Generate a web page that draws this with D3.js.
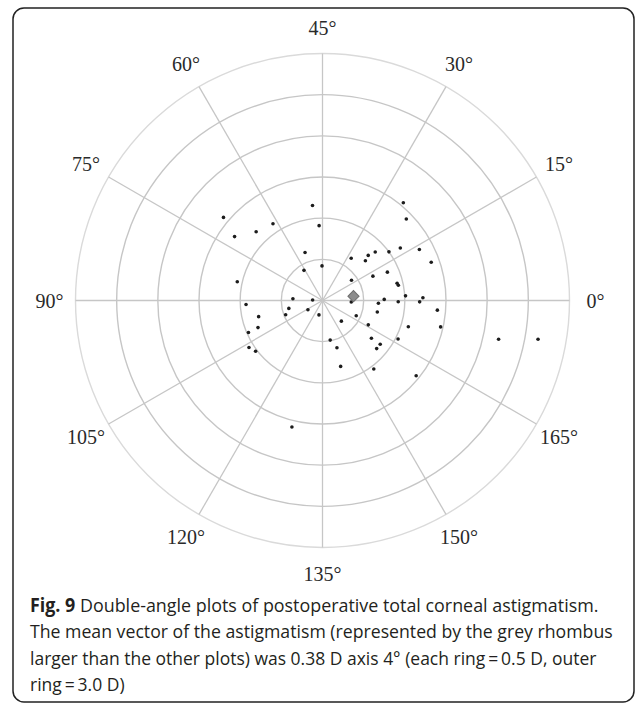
<!DOCTYPE html>
<html>
<head>
<meta charset="utf-8">
<script src="https://cdn.jsdelivr.net/npm/d3@7"></script>
<style>
  html, body { margin: 0; padding: 0; background: #fff; }
  svg { display: block; }
</style>
</head>
<body>
<svg id="chart" width="637" height="704"></svg>
<script>
// ---- Data (magnitude in dioptres, axis in degrees) ----
const magnitudes = [1.57,1.32,1.16,1.11,1.16,0.91,0.62,0.43,0.42,1.06,
  0.93,0.80,0.85,0.98,1.06,1.02,0.36,0.42,0.48,0.21,
  0.12,0.18,0.34,0.45,0.49,0.60,0.83,0.63,0.75,0.88,
  0.88,1.04,1.03,1.09,1.46,1.40,1.47,0.35,0.43,0.62,
  0.71,0.78,0.87,1.00,1.14,1.33,1.40,0.68,0.86,0.93,
  0.94,1.01,0.75,0.68,0.68,0.92,1.18,1.22,1.54,1.42,
  2.19,2.66,1.58];
const axesDeg = [70,72,67,61.4,48,46.3,55,60.8,45.4,83.8,
  91.5,97.1,101.4,101.7,106.3,108.6,88.3,96.6,100.6,106.3,
  88.5,128.1,156.2,167.8,140.5,143.5,142.7,166,161.2,159.2,
  161.4,153.4,166.5,171.5,160.6,177.6,173.7,178.5,17.5,27.9,
  21.4,22.3,21.3,18.1,17,13.9,9.7,12.9,11.8,6.5,
  5.7,1.6,0.5,178.6,174.1,179.5,179.6,0.8,25.2,22.1,
  173.8,174.9,128.2];
const meanMagnitude = 0.38;
const meanAxis = 4;
const ringValues = [0.5, 1.0, 1.5, 2.0, 2.5, 3.0];
const axisTicks = [0,15,30,45,60,75,90,105,120,135,150,165];
const captionBold = "Fig. 9";
const captionLines = [
  " Double-angle plots of postoperative total corneal astigmatism.",
  "The mean vector of the astigmatism (represented by the grey rhombus",
  "larger than the other plots) was 0.38 D axis 4° (each ring\u2009=\u20090.5 D, outer",
  "ring\u2009=\u20093.0 D)"
];

// ---- Layout ----
const svg = d3.select("#chart");
const cx = 322.5, cy = 300.5, R = 247;
const rScale = d3.scaleLinear().domain([0, 3]).range([0, R]);
// double-angle: display angle = 2 * axis
const aScale = d3.scaleLinear().domain([0, 180]).range([0, 2 * Math.PI]);
const px = (m, a) => cx + rScale(m) * Math.cos(aScale(a));
const py = (m, a) => cy - rScale(m) * Math.sin(aScale(a));

// frame
svg.append("rect")
  .attr("x", 13).attr("y", 8).attr("width", 621).attr("height", 694)
  .attr("rx", 11).attr("ry", 11)
  .attr("fill", "none").attr("stroke", "#222").attr("stroke-width", 1.5);

const g = svg.append("g");

// rings
g.selectAll("circle.ring").data(ringValues).join("circle")
  .attr("class", "ring")
  .attr("cx", cx).attr("cy", cy)
  .attr("r", d => rScale(d))
  .attr("fill", "none")
  .attr("stroke", d => d === 3 ? "#dadada" : "#c6c6c6")
  .attr("stroke-width", 1.4);

// spokes
g.selectAll("line.spoke").data(axisTicks).join("line")
  .attr("class", "spoke")
  .attr("x1", cx).attr("y1", cy)
  .attr("x2", d => px(3, d)).attr("y2", d => py(3, d))
  .attr("stroke", "#c6c6c6").attr("stroke-width", 1.3);

// angle labels
const labelR = 3 * 273 / 247;
g.selectAll("text.alab").data(axisTicks).join("text")
  .attr("class", "alab")
  .attr("x", d => px(labelR, d))
  .attr("y", d => py(labelR, d))
  .attr("text-anchor", "middle")
  .attr("dominant-baseline", "central")
  .attr("font-family", "'Liberation Serif', 'DejaVu Serif', serif")
  .attr("font-size", 20)
  .attr("fill", "#2a2a2a")
  .text(d => d + "°");

// data points
const pts = magnitudes.map((m, i) => ({ m, a: axesDeg[i] }));
g.selectAll("circle.pt").data(pts).join("circle")
  .attr("class", "pt")
  .attr("cx", d => px(d.m, d.a))
  .attr("cy", d => py(d.m, d.a))
  .attr("r", 1.8)
  .attr("fill", "#1c1c1c");

// mean vector rhombus
g.append("path")
  .attr("d", d3.symbol(d3.symbolSquare, 62)())
  .attr("transform", `translate(${px(meanMagnitude, meanAxis)},${py(meanMagnitude, meanAxis)}) rotate(45)`)
  .attr("fill", "#8c8c8c").attr("stroke", "#6e6e6e").attr("stroke-width", 1);

// caption (horizontally condensed to match the narrow original face)
const capFont = "'Open Sans', 'Noto Sans', sans-serif";
const baselines = [611.7, 638.3, 665, 690.5];
const widths = [569, 583, 567, null];
let lastK = 0.84;
captionLines.forEach((line, i) => {
  const grp = svg.append("g");
  const t = grp.append("text")
    .attr("x", 0).attr("y", 0)
    .attr("font-family", capFont).attr("font-size", 19)
    .attr("fill", "#231f20");
  if (i === 0) {
    t.append("tspan").attr("font-weight", "bold").text(captionBold);
    t.append("tspan").text(line);
  } else {
    t.text(line);
  }
  const natural = t.node().getComputedTextLength();
  const k = widths[i] !== null ? widths[i] / natural : lastK;
  lastK = k;
  grp.attr("transform", `translate(30,${baselines[i]}) scale(${k},1)`);
});
</script>
</body>
</html>
